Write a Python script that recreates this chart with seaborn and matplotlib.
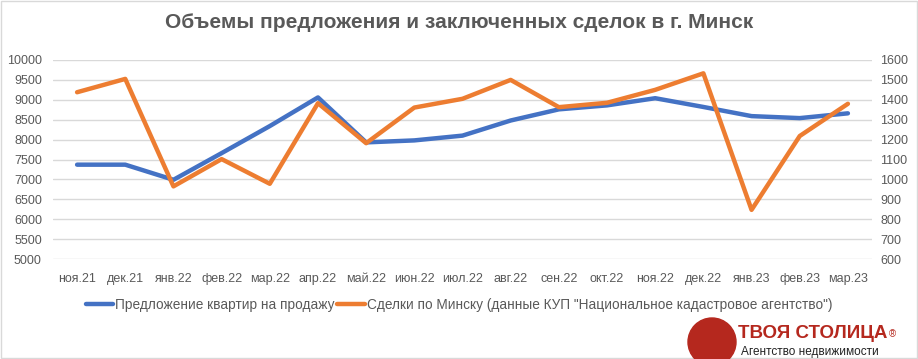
import matplotlib.pyplot as plt
import matplotlib.patches as mpatches
from matplotlib.lines import Line2D
import seaborn as sns
import pandas as pd

months = ['ноя.21', 'дек.21', 'янв.22', 'фев.22', 'мар.22', 'апр.22', 'май.22', 'июн.22', 'июл.22',
          'авг.22', 'сен.22', 'окт.22', 'ноя.22', 'дек.22', 'янв.23', 'фев.23', 'мар.23']
offers = [7370, 7370, 6990, 7660, 8340, 9060, 7930, 7980, 8100,
          8480, 8760, 8860, 9040, 8820, 8590, 8540, 8660]
deals = [1438, 1505, 965, 1102, 978, 1383, 1182, 1361, 1405,
         1500, 1363, 1385, 1450, 1533, 847, 1218, 1380]

blue = '#4472C4'
orange = '#ED7D31'
grey = '#595959'

sns.set_style('white')
plt.rcParams['font.family'] = ['Liberation Sans', 'DejaVu Sans']

df = pd.DataFrame({'month': months, 'pos': range(len(months)), 'offers': offers, 'deals': deals})

fig = plt.figure(figsize=(9.18, 3.59), dpi=100)
ax = fig.add_axes([53 / 918, 1 - 259 / 359, (872 - 53) / 918, (259 - 60) / 359])
ax2 = ax.twinx()

sns.lineplot(data=df, x='pos', y='offers', ax=ax, color=blue, linewidth=3.2, zorder=3)
sns.lineplot(data=df, x='pos', y='deals', ax=ax2, color=orange, linewidth=3.2, zorder=3)

ax.set_ylim(5000, 10000)
ax.set_yticks(range(5000, 10001, 500))
ax2.set_ylim(600, 1600)
ax2.set_yticks(range(600, 1601, 100))
ax.set_xlim(-0.5, len(months) - 0.5)
ax.set_xticks(range(len(months)))
ax.set_xticklabels(months)
ax.grid(axis='y', color='#D9D9D9', linewidth=1)
ax.set_axisbelow(True)
for a in (ax, ax2):
    a.set_xlabel('')
    a.set_ylabel('')
    for s in a.spines.values():
        s.set_visible(False)
    a.tick_params(length=0, labelsize=9, labelcolor=grey)
ax.tick_params(axis='x', pad=10)
ax.tick_params(axis='y', pad=8)
ax2.tick_params(axis='y', pad=6)

fig.text(0.5, 1 - 22 / 359, 'Объемы предложения и заключенных сделок в г. Минск',
         ha='center', va='center', fontsize=15, fontweight='bold', color=grey)

handles = [Line2D([], [], color=blue, linewidth=3.2), Line2D([], [], color=orange, linewidth=3.2)]
fig.legend(handles, ['Предложение квартир на продажу',
                     'Сделки по Минску (данные КУП "Национальное кадастровое агентство")'],
           loc='center', bbox_to_anchor=(0.5, 1 - 305 / 359), ncol=2, frameon=False,
           fontsize=9.8, labelcolor=grey, handlelength=2.0, handletextpad=0.15, columnspacing=0.2)

# logo
fig.patches.append(mpatches.Ellipse((712 / 918, 1 - 342 / 359), 48 / 918, 48 / 359,
                                    transform=fig.transFigure, color='#B5281E', zorder=5))
brand = fig.text(738 / 918, 1 - 334 / 359, 'ТВОЯ СТОЛИЦА', fontsize=13.5, fontweight='bold',
                 color='#B5281E', va='center', ha='left')
fig.canvas.draw()
bb = brand.get_window_extent().transformed(fig.transFigure.inverted())
fig.text(bb.x1 + 0.002, bb.y1 - 0.01, '®', fontsize=7, color='#B5281E', va='top', ha='left')
fig.text(741 / 918, 1 - 352 / 359, 'Агентство недвижимости', fontsize=8.5, color='#222222',
         va='center', ha='left')

fig.patches.append(mpatches.Rectangle((0.001, 0.002), 0.998, 0.996, transform=fig.transFigure,
                                      fill=False, edgecolor='#D9D9D9', linewidth=1))

fig.savefig('out.png', dpi=100)
